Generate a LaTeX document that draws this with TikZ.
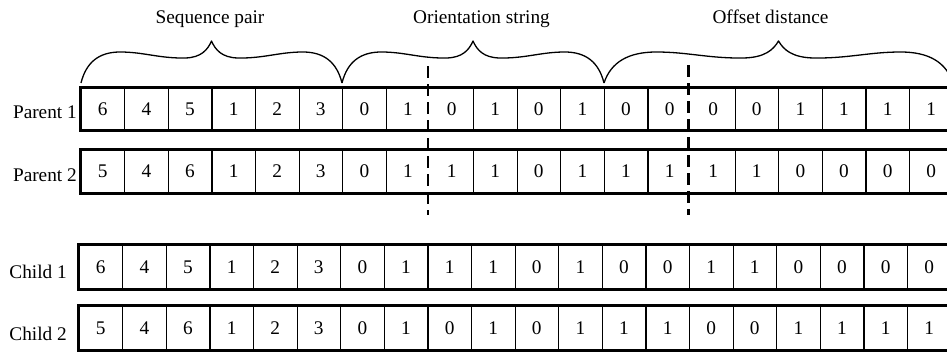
\documentclass[tikz,border=0pt]{standalone}
\usepackage{fontspec}
\setmainfont{Liberation Serif}
\usetikzlibrary{calc}
\begin{document}
\begin{tikzpicture}[x=1pt,y=-1pt,
  txt/.style={font=\fontsize{19.3}{22}\selectfont, inner sep=0pt},
  pcell/.style={txt, minimum width=43.6pt, minimum height=43pt},
  ccell/.style={txt, minimum width=43.6pt, minimum height=45pt},
  sepline/.style={line width=1.2pt},
  frame/.style={line width=2.8pt},
  cutline/.style={line width=2.4pt, dash pattern=on 12pt off 6pt},
  bracestyle/.style={line width=1.3pt, line join=round}]
\clip (0,0) rectangle (947,352);
\fill[white] (0,0) rectangle (947,352);

% headers
\node[txt, anchor=base] (h1) at (210,24) {Sequence pair};
\node[txt, anchor=base] (h2) at (481.5,24) {Orientation string};
\node[txt, anchor=base] (h3) at (770.5,24) {Offset distance};

% braces
\foreach \L/\R in {81/342, 342/604, 604/953} {
  \pgfmathsetmacro\W{\R-\L}
  \pgfmathsetmacro\M{(\L+\R)/2}
  \draw[bracestyle] (\L,83) .. controls ({\L+0.02*\W},62) and ({\L+0.07*\W},52) .. ({\L+0.15*\W},52)
    .. controls ({\L+0.24*\W},52) and ({\M-0.2*\W},58.5) .. ({\M-0.1*\W},58)
    .. controls ({\M-0.04*\W},57.5) and ({\M-0.015*\W},50) .. (\M,41)
    .. controls ({\M+0.015*\W},50) and ({\M+0.04*\W},57.5) .. ({\M+0.1*\W},58)
    .. controls ({\M+0.2*\W},58.5) and ({\R-0.24*\W},52) .. ({\R-0.15*\W},52)
    .. controls ({\R-0.07*\W},52) and ({\R-0.02*\W},62) .. (\R,83);
}

% row labels
\node[txt, anchor=base east] (lp1) at (77,119) {Parent 1};
\node[txt, anchor=base east] (lp2) at (77,181.5) {Parent 2};
\node[txt, anchor=base east] (lc1) at (67,279) {Child 1};
\node[txt, anchor=base east] (lc2) at (67,340.5) {Child 2};

% Parent 1
\foreach \v [count=\i] in {6,4,5,1,2,3,0,1,0,1,0,1,0,0,0,0,1,1,1,1}
  \node[pcell] (p1c\i) at ({81+(\i-0.5)*43.6},109) {\v};
% Parent 2
\foreach \v [count=\i] in {5,4,6,1,2,3,0,1,1,1,0,1,1,1,1,1,0,0,0,0}
  \node[pcell] (p2c\i) at ({81+(\i-0.5)*43.6},171.5) {\v};
% Child 1
\foreach \v [count=\i] in {6,4,5,1,2,3,0,1,1,1,0,1,0,0,1,1,0,0,0,0}
  \node[ccell] (c1c\i) at ({79+(\i-0.5)*43.6},267) {\v};
% Child 2
\foreach \v [count=\i] in {5,4,6,1,2,3,0,1,0,1,0,1,1,1,0,0,1,1,1,1}
  \node[ccell] (c2c\i) at ({79+(\i-0.5)*43.6},328) {\v};

% separators
\foreach \i in {1,...,7,9,10,11,12,13,15,16,17,18,19} {
  \draw[sepline] (p1c\i.north east) -- (p1c\i.south east);
  \draw[sepline] (p2c\i.north east) -- (p2c\i.south east);
}
\foreach \i in {1,...,19} {
  \draw[sepline] (c1c\i.north east) -- (c1c\i.south east);
  \draw[sepline] (c2c\i.north east) -- (c2c\i.south east);
}

% frames
\draw[frame] (p1c1.north west) rectangle (p1c20.south east);
\draw[frame] (p2c1.north west) rectangle (p2c20.south east);
\draw[frame] (c1c1.north west) rectangle (c1c20.south east);
\draw[frame] (c2c1.north west) rectangle (c2c20.south east);

% crossover cut lines
\draw[cutline] ([xshift=-2pt,yshift=21pt]p1c8.north east) -- ([xshift=-2pt,yshift=-22pt]p2c8.south east);
\draw[cutline] ([xshift=-3pt,yshift=22pt]p1c14.north east) -- ([xshift=-3pt,yshift=-22pt]p2c14.south east);
\end{tikzpicture}
\end{document}
